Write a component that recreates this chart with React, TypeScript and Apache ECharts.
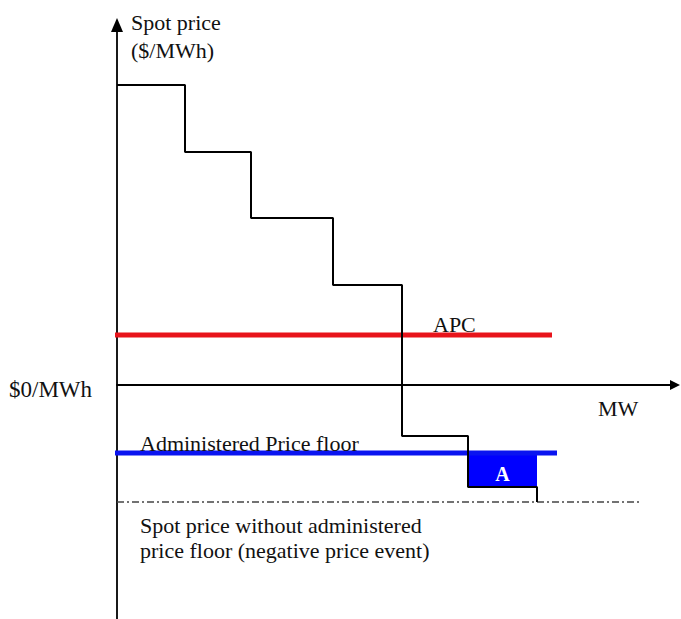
import React, { useEffect, useRef } from "react";
import * as echarts from "echarts";

// Supply offer curve (MW, $/MWh), schematic units
const stepCurve: [number, number][] = [
  [0, 300],
  [68, 233],
  [134, 167],
  [216, 100],
  [285, -51],
  [351, -102],
  [420, -117],
];
const apcLine: [number, number][] = [
  [-2, 50],
  [435, 50],
];
const floorLine: [number, number][] = [
  [-2, -68],
  [440, -68],
];
const negativeLine: [number, number][] = [
  [0, -117],
  [523, -117],
];
const areaA: [number, number][] = [
  [351, -68],
  [420, -102],
];
const labels = {
  yName: ["Spot price", "($/MWh)"],
  zero: "$0/MWh",
  xName: "MW",
  apc: "APC",
  floor: "Administered Price floor",
  area: "A",
  negative: ["Spot price without administered", "price floor (negative price event)"],
};

const FONT = "'Liberation Serif', 'Times New Roman', serif";

export default function App() {
  const ref = useRef<HTMLDivElement>(null);
  useEffect(() => {
    if (!ref.current) return;
    const chart = echarts.init(ref.current, null, { renderer: "svg" });
    const txt = (text: string, x: number, y: number, extra: any = {}) => ({
      type: "text",
      x,
      y,
      z: 100,
      style: {
        text,
        fill: "#111",
        fontSize: 22,
        fontFamily: FONT,
        align: "left",
        verticalAlign: "middle",
        ...extra,
      },
    });
    chart.setOption({
      animation: false,
      grid: { left: 117, right: 6, top: 25, bottom: 0 },
      xAxis: {
        type: "value",
        min: 0,
        max: 558,
        axisLine: {
          show: true,
          onZero: true,
          symbol: ["none", "triangle"],
          symbolSize: [10, 10],
          lineStyle: { color: "#000", width: 1.8 },
        },
        axisTick: { show: false },
        axisLabel: { show: false },
        splitLine: { show: false },
      },
      yAxis: {
        type: "value",
        min: -234,
        max: 360,
        axisLine: {
          show: true,
          onZero: false,
          symbol: ["none", "triangle"],
          symbolSize: [12, 14],
          lineStyle: { color: "#000", width: 1.8 },
        },
        axisTick: { show: false },
        axisLabel: { show: false },
        splitLine: { show: false },
      },
      series: [
        {
          type: "line",
          data: negativeLine,
          symbol: "none",
          clip: false,
          lineStyle: { color: "#444", width: 1.6, type: [7, 3, 2, 3] },
          z: 2,
        },
        {
          type: "line",
          data: apcLine,
          symbol: "none",
          clip: false,
          lineStyle: { color: "#e8141b", width: 5 },
          z: 3,
        },
        {
          type: "line",
          data: floorLine,
          symbol: "none",
          clip: false,
          lineStyle: { color: "#0a14f0", width: 5 },
          z: 3,
          markArea: {
            silent: true,
            itemStyle: { color: "#0000ff", opacity: 1 },
            label: {
              show: true,
              position: "inside",
              color: "#fff",
              fontWeight: "bold",
              fontSize: 20,
              fontFamily: FONT,
              offset: [0, 4],
            },
            data: [
              [
                { name: labels.area, coord: areaA[0] },
                { coord: areaA[1] },
              ],
            ],
          },
        },
        {
          type: "line",
          data: stepCurve,
          step: "end",
          symbol: "none",
          clip: false,
          lineStyle: { color: "#000", width: 2 },
          z: 4,
        },
      ],
      graphic: [
        txt(labels.yName[0], 131, 22),
        txt(labels.yName[1], 131, 50),
        txt(labels.zero, 9, 389, { fontSize: 23 }),
        txt(labels.xName, 598, 408),
        txt(labels.apc, 433, 324),
        txt(labels.floor, 140, 443),
        txt(labels.negative[0], 140, 525),
        txt(labels.negative[1], 140, 550),
      ],
    });
    return () => chart.dispose();
  }, []);
  return (
    <div
      ref={ref}
      style={{ position: "absolute", left: 0, top: 0, width: 681, height: 619, background: "#fff" }}
    />
  );
}
